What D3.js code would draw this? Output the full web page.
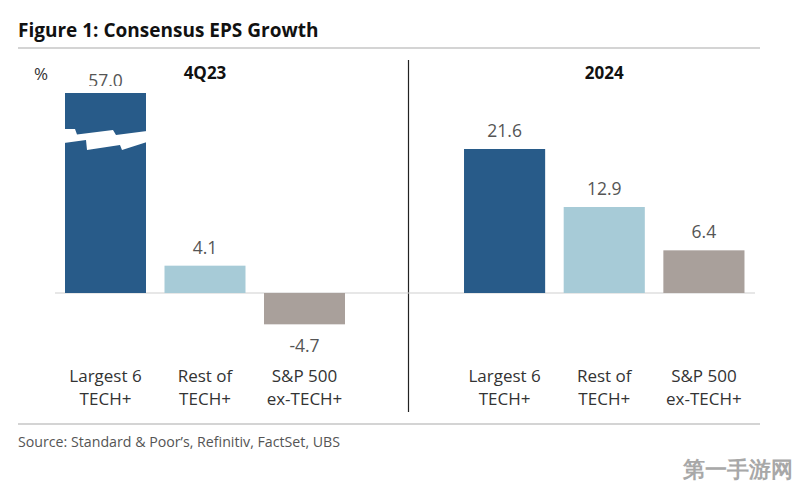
<!DOCTYPE html>
<html><head><meta charset="utf-8">
<script src="https://cdn.jsdelivr.net/npm/d3@7"></script>
<style>body{margin:0;background:#fff}svg{display:block}text{font-family:"Open Sans","Noto Sans",sans-serif}</style>
</head><body>
<script>
const categories = [["Largest 6","TECH+"],["Rest of","TECH+"],["S&P 500","ex-TECH+"]];
const catKeys = ["Largest 6 TECH+","Rest of TECH+","S&P 500 ex-TECH+"];
const panels = ["4Q23","2024"];
const values4Q23 = [57.0, 4.1, -4.7];
const values2024 = [21.6, 12.9, 6.4];
const colors = ["#285b89","#a7cbd7","#a9a09b"];
const axisCap = 30; // values above this are drawn broken

const W=796,H=487;
const svg=d3.select("body").append("svg").attr("width",W).attr("height",H);

const y=d3.scaleLinear().domain([0,axisCap]).range([293,93]);
const xL=d3.scaleBand().domain(catKeys).range([55.75,354.25]).paddingInner(0.186).paddingOuter(0.093);
const xR=d3.scaleBand().domain(catKeys).range([454.75,753.75]).paddingInner(0.186).paddingOuter(0.093);

// title & rules
svg.append("text").attr("x",18).attr("y",37).attr("font-size",19).attr("font-weight",700).attr("fill","#111").text("Figure 1: Consensus EPS Growth");
svg.append("line").attr("x1",18).attr("x2",760).attr("y1",48).attr("y2",48).attr("stroke","#d4d4d4").attr("stroke-width",2);
svg.append("line").attr("x1",18).attr("x2",760).attr("y1",424).attr("y2",424).attr("stroke","#d4d4d4").attr("stroke-width",2);
svg.append("text").attr("x",18).attr("y",447).attr("font-size",14.2).attr("fill","#555").text("Source: Standard & Poor\u2019s, Refinitiv, FactSet, UBS");

svg.append("text").attr("x",34).attr("y",80).attr("font-size",17).attr("fill","#333").text("%");

// divider
svg.append("line").attr("x1",408.5).attr("x2",408.5).attr("y1",60).attr("y2",412).attr("stroke","#222").attr("stroke-width",1.2);
// baseline
svg.append("line").attr("x1",55).attr("x2",755).attr("y1",y(0)).attr("y2",y(0)).attr("stroke","#d0d0d0").attr("stroke-width",1.2);

const defs=svg.append("defs");
defs.append("clipPath").attr("id","lblclip").append("rect").attr("x",0).attr("y",0).attr("width",W).attr("height",86);

function drawPanel(x, vals, title){
  const r=x.range();
  svg.append("text").attr("x",(r[0]+r[1])/2).attr("y",79).attr("text-anchor","middle").attr("font-size",17).attr("font-weight",700).attr("fill","#111").text(title);
  const g=svg.append("g");
  vals.forEach((v,i)=>{
    const k=catKeys[i];
    const vv=Math.min(v,axisCap);
    const x0=x(k), bw=x.bandwidth();
    g.append("rect").attr("x",x0).attr("width",bw)
      .attr("y",y(Math.max(vv,0))).attr("height",Math.abs(y(vv)-y(0))).attr("fill",colors[i]);
    const cx=x0+bw/2;
    let lbl;
    if(v>axisCap){
      // break marker
      const t=y(axisCap);
      const pts=[[-1,36],[10,36],[12,41.5],[48,37],[51,42],[82,38],[82,49],[57,57],[55,52],[22,57],[21,47],[-1,50]];
      g.append("polygon").attr("points",pts.map(p=>[x0+p[0]*bw/81,t+p[1]].join(",")).join(" ")).attr("fill","#fff");
      lbl=g.append("text").attr("x",cx).attr("y",t-6).attr("clip-path","url(#lblclip)");
    } else if(v>=0){
      lbl=g.append("text").attr("x",cx).attr("y",y(v)-12);
    } else {
      lbl=g.append("text").attr("x",cx).attr("y",y(v)+28);
    }
    lbl.attr("text-anchor","middle").attr("font-size",17.5).attr("fill","#555").text(v.toFixed(1));
    const ct=g.append("text").attr("x",cx).attr("y",382).attr("text-anchor","middle").attr("font-size",17).attr("fill","#333");
    categories[i].forEach((line,j)=>{
      ct.append("tspan").attr("x",cx).attr("dy",j===0?0:23.3).text(line);
    });
  });
}
drawPanel(xL, values4Q23, panels[0]);
drawPanel(xR, values2024, panels[1]);

svg.append("text").attr("x",738).attr("y",477).attr("text-anchor","middle").attr("font-size",22).attr("font-weight",700).attr("fill","#a8a8a8").attr("font-family","Noto Sans CJK SC").text("第一手游网");
</script>
</body></html>
